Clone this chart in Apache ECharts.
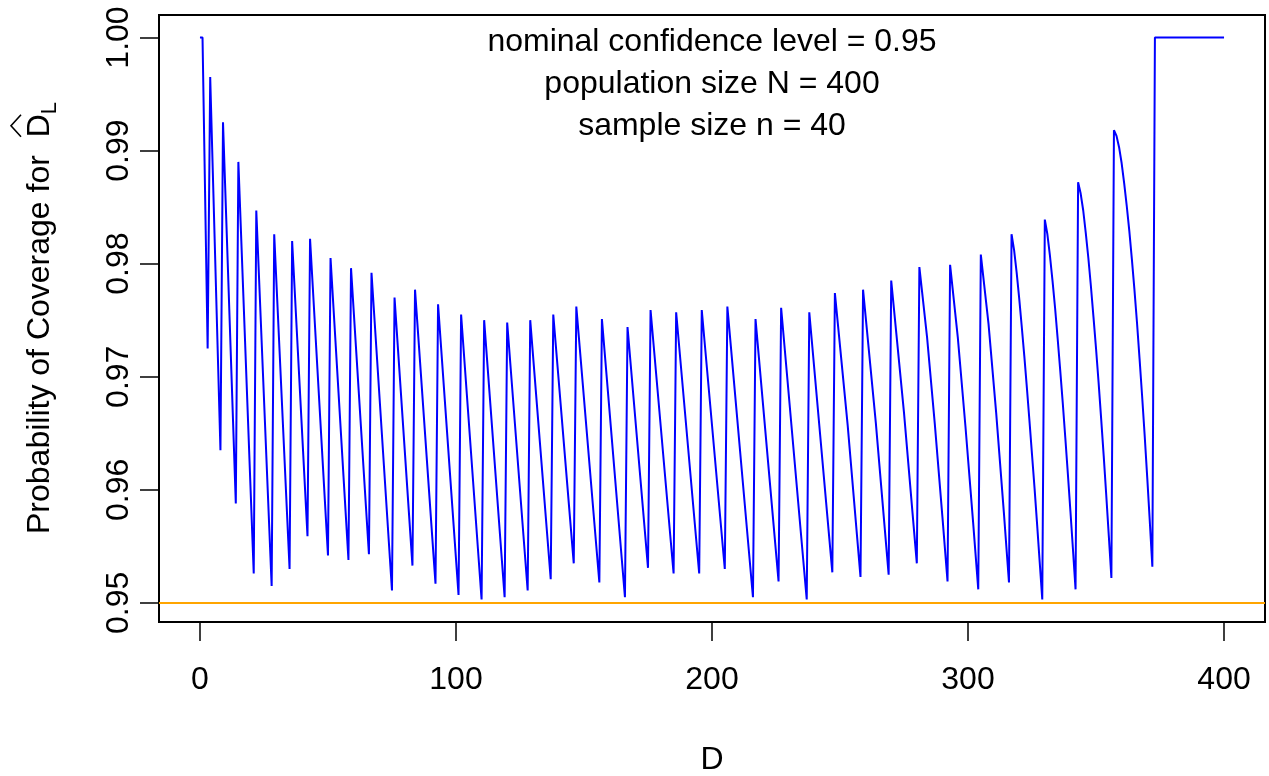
<!DOCTYPE html>
<html><head><meta charset="utf-8">
<script src="https://cdn.jsdelivr.net/npm/echarts@6/dist/echarts.min.js"></script>
<style>html,body{margin:0;padding:0;background:#fff}#c{width:1269px;height:776px}</style>
</head><body><div id="c"></div>
<script>
const FONT = '"Liberation Sans", Arial, Helvetica, sans-serif';

// D values (x) and probability of coverage (y), read at the peaks, troughs and bends of each tooth
const coverageD = [0, 1, 3, 4, 8, 9, 14, 15, 21, 22, 28, 29, 35, 36, 42, 43, 50, 51, 58, 59,
  66, 67, 75, 76, 83, 84, 92, 93, 101, 102, 110, 111, 119, 120, 128, 129, 137, 138, 146, 147,
  156, 157, 166, 167, 175, 176, 185, 186, 195, 196, 205, 206, 216, 217, 226, 227, 237, 238, 247,
  248, 253, 258,
  259, 264, 269,
  270, 275, 280,
  281, 284, 287, 290, 292,
  293, 296, 299, 302, 304,
  305, 308, 311, 314, 316,
  317, 318, 319, 320, 321, 322, 323, 324, 325, 326, 327, 328, 329,
  330, 331, 332, 333, 334, 335, 336, 337, 338, 339, 340, 341, 342,
  343, 344, 345, 346, 347, 348, 349, 350, 351, 352, 353, 354, 355, 356,
  357, 358, 359, 360, 361, 362, 363, 364, 365, 366, 367, 368, 369, 370, 371, 372,
  373, 400];
const coverageP = [1.0, 1.0, 0.9725, 0.9965, 0.9635, 0.9925, 0.9588, 0.9890, 0.9526, 0.9847,
  0.9515, 0.9826, 0.9530, 0.9820, 0.9559, 0.9822, 0.9542, 0.9805, 0.9538, 0.9796,
  0.9543, 0.9792, 0.9511, 0.9770, 0.9533, 0.9777, 0.9517, 0.9764, 0.9507, 0.9755,
  0.9503, 0.9750, 0.9505, 0.9748, 0.9511, 0.9750, 0.9521, 0.9755, 0.9535, 0.9762,
  0.9518, 0.9751, 0.9505, 0.9744, 0.9531, 0.9759, 0.9526, 0.9757, 0.9526, 0.9759,
  0.9530, 0.9762, 0.9505, 0.9751, 0.9519, 0.9761, 0.9503, 0.9757, 0.9527,
  0.9774, 0.9657, 0.9523,
  0.9777, 0.9659, 0.9525,
  0.9785, 0.9668, 0.9535,
  0.9797, 0.9735, 0.9659, 0.9576, 0.9519,
  0.9799, 0.9735, 0.9656, 0.9571, 0.9512,
  0.9808, 0.9747, 0.9668, 0.9580, 0.9518,
  0.9826, 0.9812, 0.9792, 0.9769, 0.9744, 0.9718, 0.9690, 0.9661, 0.9631, 0.9601, 0.9569, 0.9536, 0.9503,
  0.9839, 0.9826, 0.9807, 0.9785, 0.9761, 0.9734, 0.9706, 0.9677, 0.9646, 0.9614, 0.9581, 0.9547, 0.9512,
  0.9872, 0.9862, 0.9847, 0.9827, 0.9805, 0.9780, 0.9753, 0.9725, 0.9695, 0.9663, 0.9630, 0.9595, 0.9559, 0.9522,
  0.9918, 0.9913, 0.9903, 0.9889, 0.9871, 0.9851, 0.9829, 0.9804, 0.9777, 0.9748, 0.9716, 0.9683, 0.9648, 0.9611, 0.9572, 0.9532,
  1.0, 1.0];

const xTicks = [0, 100, 200, 300, 400];
const yTicks = [0.95, 0.96, 0.97, 0.98, 0.99, 1.00];
const nominalLevel = 0.95;
const annotationLines = ['nominal confidence level = 0.95', 'population size N = 400', 'sample size n = 40'];
const xTitle = 'D';
const yTitleMain = 'Probability of Coverage for  ';
const yTitleSymbol = 'D';
const yTitleSub = 'L';

const FS = 32;
const ctx = document.createElement('canvas').getContext('2d');
ctx.font = FS + 'px ' + FONT;
const wMain = ctx.measureText(yTitleMain).width;
const wD = ctx.measureText(yTitleSymbol).width;
ctx.font = '22px ' + FONT;
const wL = ctx.measureText(yTitleSub).width;
const totalLen = wMain + wD + wL;
const x0 = -totalLen / 2;
const hatC = x0 + wMain + wD / 2;

const chart = echarts.init(document.getElementById('c'), null, {renderer: 'canvas'});
chart.setOption({
  animation: false,
  backgroundColor: '#ffffff',
  grid: {left: 159, right: 4, top: 15, bottom: 154, show: true, borderColor: '#000', borderWidth: 2,
    backgroundColor: 'transparent', containLabel: false, outerBoundsMode: 'none'},
  xAxis: {
    type: 'value', min: -16, max: 416,
    name: xTitle, nameLocation: 'middle', nameGap: 122,
    nameTextStyle: {fontFamily: FONT, fontSize: FS, color: '#000'},
    axisLine: {show: false, onZero: false},
    axisTick: {show: true, length: 19, lineStyle: {color: '#000', width: 1.5}, customValues: xTicks},
    axisLabel: {fontFamily: FONT, fontSize: FS, color: '#000', margin: 42, customValues: xTicks, formatter: v => String(v)},
    splitLine: {show: false}
  },
  yAxis: {
    type: 'value', min: 0.94831, max: 1.00199,
    axisLine: {show: false, onZero: false},
    axisTick: {show: true, length: 19, lineStyle: {color: '#000', width: 1.5}, customValues: yTicks},
    axisLabel: {fontFamily: FONT, fontSize: FS, color: '#000', margin: 24, rotate: 90, customValues: yTicks, formatter: v => v.toFixed(2)},
    splitLine: {show: false}
  },
  graphic: [
    {type: 'text', x: 712, y: 42, style: {text: annotationLines[0], font: FS + 'px ' + FONT, fill: '#000', textAlign: 'center', textVerticalAlign: 'middle'}},
    {type: 'text', x: 712, y: 84, style: {text: annotationLines[1], font: FS + 'px ' + FONT, fill: '#000', textAlign: 'center', textVerticalAlign: 'middle'}},
    {type: 'text', x: 712, y: 126, style: {text: annotationLines[2], font: FS + 'px ' + FONT, fill: '#000', textAlign: 'center', textVerticalAlign: 'middle'}},
    {type: 'group', x: 40, y: 318, rotation: Math.PI / 2, children: [
      {type: 'text', x: x0, y: 0, style: {text: yTitleMain, font: FS + 'px ' + FONT, fill: '#000', textAlign: 'left', textVerticalAlign: 'middle'}},
      {type: 'text', x: x0 + wMain, y: 0, style: {text: yTitleSymbol, font: FS + 'px ' + FONT, fill: '#000', textAlign: 'left', textVerticalAlign: 'middle'}},
      {type: 'polyline', shape: {points: [[hatC - 11, -19], [hatC, -29], [hatC + 11, -19]]}, style: {stroke: '#000', lineWidth: 1.6, fill: null}},
      {type: 'text', x: x0 + wMain + wD, y: 10, style: {text: yTitleSub, font: '22px ' + FONT, fill: '#000', textAlign: 'left', textVerticalAlign: 'middle'}}
    ]}
  ],
  series: [{
    type: 'line',
    data: coverageD.map((d, i) => [d, coverageP[i]]),
    showSymbol: false,
    lineStyle: {color: '#0000FF', width: 2},
    markLine: {
      silent: true, symbol: 'none', label: {show: false},
      lineStyle: {color: '#FFA500', width: 2, type: 'solid'},
      data: [{yAxis: nominalLevel}]
    }
  }]
});
</script>
</body></html>
